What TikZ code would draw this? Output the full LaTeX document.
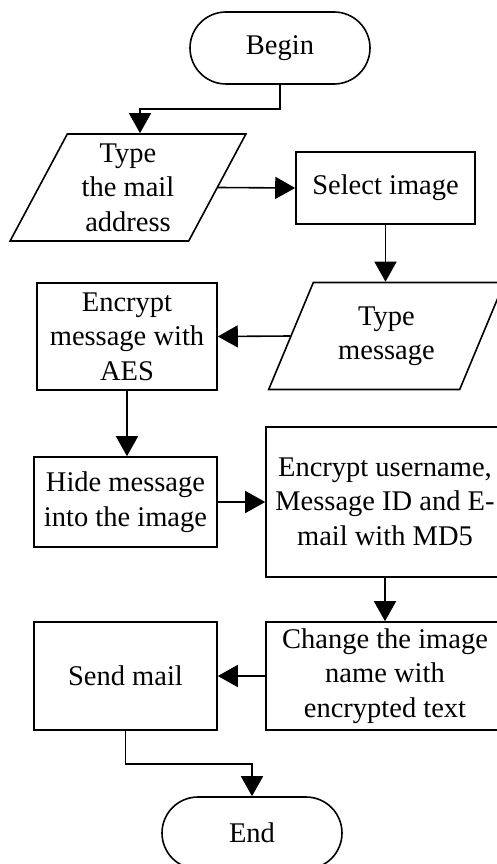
\documentclass[tikz,border=0pt]{standalone}
\usepackage{fontspec}
\setmainfont{Liberation Serif}
\usetikzlibrary{shapes.geometric}
\usetikzlibrary{arrows.meta}
\tikzset{
  font={\fontsize{28.5pt}{34.5pt}\selectfont}}

\begin{document}
\begin{tikzpicture}[x=1pt, y=-1pt, line width=1.6pt]

    \tikzset{edge/.style = {-{Triangle[length=20pt,width=22pt]}}}
    \tikzset{process/.style = {draw=black, rectangle, align=center, inner sep=0pt}}
    \tikzset{terminal/.style = {draw=black, rectangle, rounded corners=36pt, minimum width=180pt, minimum height=72pt, inner sep=0pt}}
    \tikzset{inout/.style = {draw=black, trapezium, trapezium left angle=63.6, trapezium right angle=116.4, trapezium stretches=true, minimum width=236pt, minimum height=107pt, align=center, inner sep=0pt}}

    \useasboundingbox (0,0) rectangle (496,864);

    % vertices
    \node[terminal] (begin) at (280,48) {Begin};
    \node[inout] (addr) at (128,187.5) {Type\\the mail\\address};
    \node[process, minimum width=179pt, minimum height=72pt] (select) at (385.5,188) {Select image};
    \node[inout] (msg) at (386.5,336) {Type\\message};
    \node[process, minimum width=180pt, minimum height=107pt] (aes) at (127,336.5) {Encrypt\\message with\\AES};
    \node[process, minimum width=183pt, minimum height=90pt] (hide) at (125.5,502) {Hide message\\into the image};
    \node[process, minimum width=238pt, minimum height=150pt] (md5) at (385,501.7) {Encrypt username,\\Message ID and E-\\mail with MD5};
    \node[process, minimum width=238pt, minimum height=108pt] (rename) at (385,676) {Change the image\\name with\\encrypted text};
    \node[process, minimum width=183pt, minimum height=108pt] (send) at (125.5,676) {Send mail};
    \node[terminal] (end) at (252,833) {End};

    %edges
    \draw[edge] (begin.south) -- ++(0,24) -| ([xshift=12pt]addr.north);
    \draw[edge] (addr.east) -- (select.west);
    \draw[edge] (select.south) -- (select.south |- msg.north);
    \draw[edge] (msg.west) -- (aes.east);
    \draw[edge] (aes.south) -- (aes.south |- hide.north);
    \draw[edge] (hide.east) -- (hide.east -| md5.west);
    \draw[edge] (md5.south) -- (rename.north);
    \draw[edge] (rename.west) -- (send.east);
    \draw[edge] (send.south) -- ++(0,33) -| (end.north);

\end{tikzpicture}
\end{document}
